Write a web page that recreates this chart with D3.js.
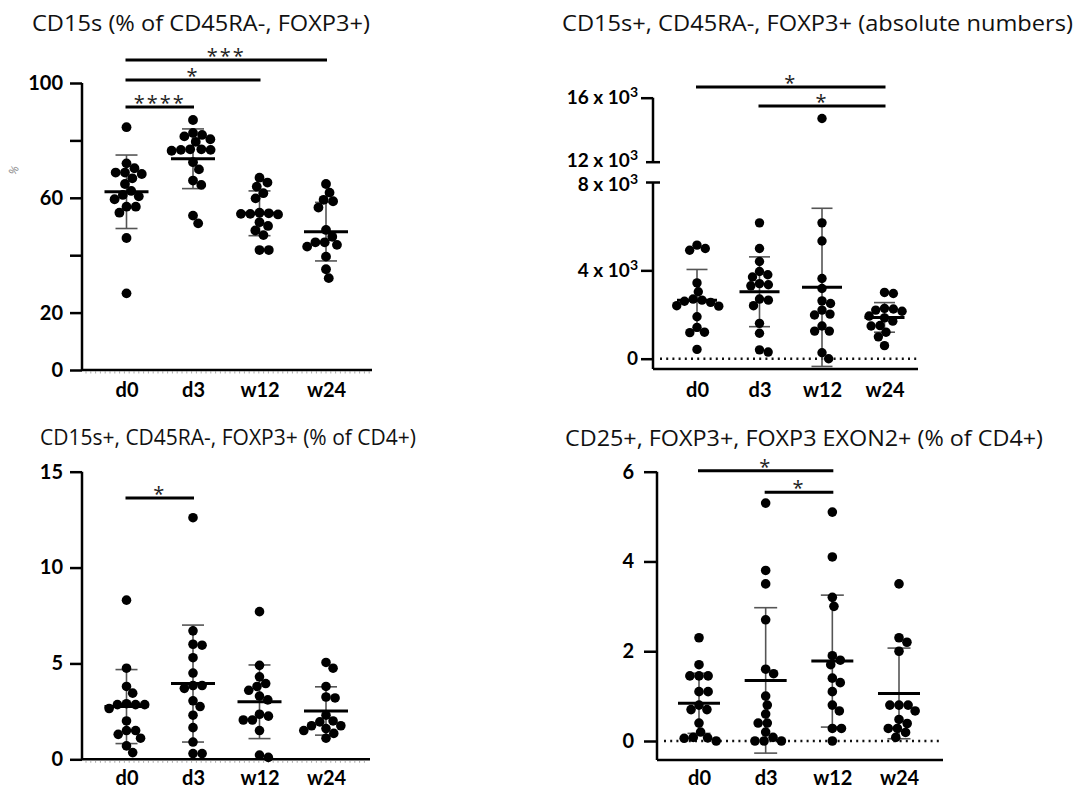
<!DOCTYPE html>
<html><head><meta charset="utf-8">
<script src="https://cdn.jsdelivr.net/npm/d3@7"></script>
<style>body{margin:0;background:#fff} svg{display:block}</style>
</head><body>
<svg id="c" width="1075" height="788"></svg>
<script>
// ---------------- DATA ----------------
const categories = ["d0", "d3", "w12", "w24"];

// Panel 1: CD15s (% of CD45RA-, FOXP3+)
const pctTitle = "CD15s (% of CD45RA-, FOXP3+)";
const pct_d0  = [84.6, 72.0, 70.3, 68.8, 68.8, 68.3, 66.8, 64.8, 62.4, 61.0, 60.5, 59.5, 56.9, 56.9, 54.8, 46.0, 26.7];
const pct_d3  = [87.1, 82.6, 81.9, 81.4, 80.4, 79.5, 76.9, 76.9, 76.7, 76.7, 76.4, 72.4, 69.9, 66.0, 64.5, 53.8, 51.1];
const pct_w12 = [67.0, 65.3, 63.9, 61.6, 59.8, 54.8, 54.6, 54.4, 54.2, 54.4, 51.5, 50.2, 48.6, 47.0, 41.8, 41.8];
const pct_w24 = [64.8, 61.8, 59.3, 58.8, 56.6, 48.8, 46.4, 44.5, 44.5, 43.6, 43.0, 39.5, 35.1, 32.0];
const pct_mean = [62.1, 73.6, 54.6, 48.2];
const pct_sd   = [12.8, 10.4, 7.8, 10.2];
const pct_ticks = [0, 20, 40, 60, 80, 100];
const pct_tickLabels = ["0", "20", "", "60", "", "100"];
const pct_sig = [["d0", "d3", "****"], ["d0", "w12", "*"], ["d0", "w24", "***"]];

// Panel 2: CD15s+, CD45RA-, FOXP3+ (absolute numbers)
const absTitle = "CD15s+, CD45RA-, FOXP3+ (absolute numbers)";
const abs_d0  = [5140, 4990, 4910, 3430, 3030, 2700, 2650, 2600, 2550, 2400, 2380, 1900, 1420, 1200, 1180, 420];
const abs_d3  = [6150, 4990, 4400, 3950, 3800, 3700, 3400, 3350, 3300, 2700, 2650, 2400, 1600, 1150, 400, 300];
const abs_w12 = [14700, 6150, 5330, 3630, 3180, 2620, 2500, 2200, 2020, 1980, 1480, 1250, 1250, 270, 0];
const abs_w24 = [3000, 2950, 2280, 2250, 2200, 2150, 1930, 1850, 1700, 1500, 1480, 1200, 990, 590];
const abs_mean = [2650, 3030, 3230, 1870];
const abs_sd   = [1390, 1580, 3580, 670];
const abs_ticksLow  = [0, 4000, 8000];
const abs_ticksHigh = [12000, 16000];
const abs_tickLabels = {0: "0", 4000: "4 x 10^3", 8000: "8 x 10^3", 12000: "12 x 10^3", 16000: "16 x 10^3"};
const abs_sig = [["d0", "w24", "*"], ["d3", "w24", "*"]];

// Panel 3: CD15s+, CD45RA-, FOXP3+ (% of CD4+)
const cd4Title = "CD15s+, CD45RA-, FOXP3+ (% of CD4+)";
const cd4_d0  = [8.3, 4.75, 3.8, 3.45, 2.9, 2.85, 2.85, 2.85, 2.65, 2.0, 1.5, 1.5, 1.3, 1.1, 0.7, 0.35];
const cd4_d3  = [12.6, 6.7, 6.0, 5.95, 5.3, 4.5, 3.85, 3.85, 3.7, 3.05, 2.75, 2.3, 1.65, 0.9, 0.3, 0.3];
const cd4_w12 = [7.7, 4.9, 4.3, 3.95, 3.8, 3.6, 3.3, 3.1, 2.35, 2.25, 2.05, 2.05, 1.5, 0.22, 0.1];
const cd4_w24 = [5.05, 4.75, 3.8, 3.25, 3.2, 2.3, 2.0, 1.95, 1.75, 1.75, 1.6, 1.5, 1.35, 1.1];
const cd4_mean = [2.75, 3.95, 3.0, 2.52];
const cd4_sd   = [1.93, 3.05, 1.92, 1.26];
const cd4_ticks = [0, 5, 10, 15];
const cd4_sig = [["d0", "d3", "*"]];

// Panel 4: CD25+, FOXP3+, FOXP3 EXON2+ (% of CD4+)
const exonTitle = "CD25+, FOXP3+, FOXP3 EXON2+ (% of CD4+)";
const exon_d0  = [2.3, 1.7, 1.45, 1.45, 1.45, 1.1, 1.1, 0.8, 0.7, 0.7, 0.4, 0.2, 0.08, 0.07, 0.06, 0.0];
const exon_d3  = [5.3, 3.8, 3.5, 2.7, 1.6, 1.5, 1.0, 0.8, 0.6, 0.4, 0.4, 0.2, 0.08, 0.0, 0.0, 0.0];
const exon_w12 = [5.1, 4.1, 3.2, 3.0, 1.9, 1.8, 1.7, 1.4, 1.3, 1.1, 0.8, 0.67, 0.28, 0.28, 0.0];
const exon_w24 = [3.5, 2.3, 2.2, 2.0, 0.8, 0.8, 0.8, 0.67, 0.48, 0.39, 0.28, 0.28, 0.19, 0.08];
const exon_mean = [0.84, 1.35, 1.78, 1.06];
const exon_sd   = [0.67, 1.62, 1.47, 1.01];
const exon_ticks = [0, 2, 4, 6];
const exon_sig = [["d0", "w12", "*"], ["d3", "w12", "*"]];

// ---------------- DRAWING ----------------
const svg = d3.select("#c");
const TITLE_FONT = "'Open Sans', 'Noto Sans', sans-serif";
const BOLD_FONT = "Lato, 'Open Sans', sans-serif";

function swarm(values, yf, r) {
  const D = 2 * r * 0.95;
  const pts = values.map(v => ({v, y: yf(v), x: 0})).sort((a, b) => a.y - b.y);
  const placed = [];
  for (const p of pts) {
    const c = [0];
    for (const q of placed) {
      const dy = Math.abs(q.y - p.y);
      if (dy < D) { const dx = Math.sqrt(D * D - dy * dy); c.push(q.x + dx, q.x - dx); }
    }
    c.sort((a, b) => Math.abs(a) - Math.abs(b));
    for (const cx of c) {
      if (placed.every(q => (q.x - cx) ** 2 + (q.y - p.y) ** 2 >= D * D - 0.01)) { p.x = cx; break; }
    }
    placed.push(p);
  }
  return placed;
}

function drawPanel(p) {
  const g = svg.append("g");
  g.append("text").attr("x", p.titleX).attr("y", p.titleY)
    .attr("textLength", p.titleLen).attr("lengthAdjust", "spacingAndGlyphs")
    .style("font-family", TITLE_FONT).style("font-size", "21px").attr("fill", "#111")
    .text(p.title);

  const x = d3.scalePoint().domain(categories).range(p.xRange);

  g.append("line").attr("x1", p.axisX).attr("x2", p.xEnd).attr("y1", p.xAxisY).attr("y2", p.xAxisY)
    .attr("stroke", "#000").attr("stroke-width", 2.5);
  if (p.minorTicks) {
    g.append("g").selectAll("line").data(d3.range(p.axisX + 4, p.xEnd - 1, 4.8)).join("line")
      .attr("x1", d => d).attr("x2", d => d).attr("y1", p.xAxisY + 1).attr("y2", p.xAxisY + 3.5)
      .attr("stroke", "#888").attr("stroke-width", 0.7);
  }
  const xa = g.append("g").attr("transform", `translate(0,${p.xAxisY})`)
    .call(d3.axisBottom(x).tickSize(0));
  xa.select(".domain").remove();
  xa.selectAll("text").attr("y", p.labelBase - p.xAxisY).attr("dy", 0)
    .style("font-family", BOLD_FONT).style("font-size", "20px").style("font-weight", "700").attr("fill", "#000");

  if (p.zeroDots) {
    g.append("line").attr("x1", p.axisX + 7).attr("x2", p.xEnd).attr("y1", p.y(0)).attr("y2", p.y(0))
      .attr("stroke", "#111").attr("stroke-width", 2.4).attr("stroke-dasharray", "2,4.2");
  }

  categories.forEach((c, i) => {
    const cx = x(c), m = p.mean[i], s = p.sd[i];
    const yt = p.y(m + s), yb = p.y(m - s);
    g.append("line").attr("x1", cx).attr("x2", cx).attr("y1", yt).attr("y2", yb).attr("stroke", "#555").attr("stroke-width", 1.6);
    [yt, yb].forEach(yy => g.append("line").attr("x1", cx - p.capW / 2).attr("x2", cx + p.capW / 2)
      .attr("y1", yy).attr("y2", yy).attr("stroke", "#555").attr("stroke-width", 1.6));
  });

  p.series.forEach((vals, i) => {
    const cx = x(categories[i]);
    const pts = swarm(vals, p.y, p.r);
    g.append("g").selectAll("circle").data(pts).join("circle")
      .attr("cx", d => cx + d.x).attr("cy", d => d.y).attr("r", p.r).attr("fill", "#000");
  });

  categories.forEach((c, i) => {
    const cx = x(c), ym = p.y(p.mean[i]);
    g.append("line").attr("x1", cx - p.meanW / 2).attr("x2", cx + p.meanW / 2).attr("y1", ym).attr("y2", ym)
      .attr("stroke", "#000").attr("stroke-width", 3);
  });

  p.sig.forEach((s, k) => {
    const yy = p.sigY[k];
    g.append("line").attr("x1", x(s[0]) - 1).attr("x2", x(s[1]) + 1).attr("y1", yy).attr("y2", yy)
      .attr("stroke", "#000").attr("stroke-width", 3);
    g.append("text").attr("x", (x(s[0]) + x(s[1])) / 2).attr("y", yy + 3).attr("text-anchor", "middle")
      .style("font-family", TITLE_FONT).style("font-size", "20px").style("letter-spacing", "2px")
      .attr("fill", "#222").text(s[2]);
  });
  return {g, x};
}

function styleYAxis(ax, tickLen, pad, size) {
  ax.select(".domain").remove();
  ax.selectAll(".tick line").attr("stroke", "#000").attr("stroke-width", 2.5);
  ax.selectAll(".tick text").attr("x", -(tickLen + pad))
    .style("font-family", BOLD_FONT).style("font-size", (size || 20) + "px").style("font-weight", "700").attr("fill", "#000");
}

// ---- Panel 1 ----
{
  const y = d3.scaleLinear().domain([0, 100]).range([370, 83]);
  const P = drawPanel({
    title: pctTitle, titleX: 32, titleY: 31, titleLen: 338,
    xRange: [126.5, 326], axisX: 82, xEnd: 372, xAxisY: 370, labelBase: 397, minorTicks: true,
    y, series: [pct_d0, pct_d3, pct_w12, pct_w24], mean: pct_mean, sd: pct_sd,
    r: 4.9, meanW: 44, capW: 22, sig: pct_sig, sigY: [107, 80, 60]
  });
  P.g.append("line").attr("x1", 82).attr("x2", 82).attr("y1", y(100)).attr("y2", 370).attr("stroke", "#000").attr("stroke-width", 2.5);
  const ax = P.g.append("g").attr("transform", "translate(82,0)")
    .call(d3.axisLeft(y).tickValues(pct_ticks).tickFormat((d, i) => pct_tickLabels[i]).tickSize(12));
  styleYAxis(ax, 12, 7);
  P.g.append("text").attr("transform", "translate(17,172) rotate(-60)").attr("text-anchor", "middle")
    .style("font-family", TITLE_FONT).style("font-size", "11px").attr("fill", "#888").text("%");
}

// ---- Panel 2 ----
{
  const yLow = d3.scaleLinear().domain([0, 8000]).range([358.7, 182]);
  const yHigh = d3.scaleLinear().domain([12000, 16000]).range([161.7, 97.7]);
  const y = v => v > 10000 ? yHigh(v) : yLow(v);
  const AX = 653;
  const P = drawPanel({
    title: absTitle, titleX: 562, titleY: 31, titleLen: 511,
    xRange: [697, 884.5], axisX: AX, xEnd: 918, xAxisY: 369, labelBase: 397, zeroDots: true,
    y, series: [abs_d0, abs_d3, abs_w12, abs_w24], mean: abs_mean, sd: abs_sd,
    r: 4.7, meanW: 40, capW: 21, sig: abs_sig, sigY: [87, 106]
  });
  P.g.append("line").attr("x1", AX).attr("x2", AX).attr("y1", yLow(8000)).attr("y2", 369).attr("stroke", "#000").attr("stroke-width", 2.5);
  P.g.append("line").attr("x1", AX).attr("x2", AX).attr("y1", yHigh(16000)).attr("y2", yHigh(12000)).attr("stroke", "#000").attr("stroke-width", 2.5);
  const fmt = d => abs_tickLabels[d];
  [[yLow, abs_ticksLow], [yHigh, abs_ticksHigh]].forEach(([sc, tv]) => {
    const ax = P.g.append("g").attr("transform", `translate(${AX},0)`)
      .call(d3.axisLeft(sc).tickValues(tv).tickFormat(fmt).tickSize(12));
    styleYAxis(ax, 12, 3, 19);
    ax.selectAll(".tick line").filter(d => d === 8000 || d === 12000).attr("x1", 7).attr("x2", -7);
    ax.selectAll(".tick text").each(function (d) {
      const lab = abs_tickLabels[d];
      const t = d3.select(this);
      if (lab.includes("^")) {
        const [base, exp] = lab.split("^");
        t.text(null);
        t.append("tspan").text(base);
        t.append("tspan").attr("dy", "-0.5em").style("font-size", "14px").text(exp);
      }
    });
    // nudge the two stacked break labels apart slightly
    ax.selectAll(".tick").filter(d => d === 12000).select("text").attr("dy", "0.25em");
    ax.selectAll(".tick").filter(d => d === 8000).select("text").attr("dy", "0.45em");
  });
}

// ---- Panel 3 ----
{
  const y = d3.scaleLinear().domain([0, 15]).range([759.3, 471.7]);
  const P = drawPanel({
    title: cd4Title, titleX: 40, titleY: 445, titleLen: 376,
    xRange: [126.5, 326], axisX: 82, xEnd: 370, xAxisY: 759.3, labelBase: 785, minorTicks: true,
    y, series: [cd4_d0, cd4_d3, cd4_w12, cd4_w24], mean: cd4_mean, sd: cd4_sd,
    r: 4.8, meanW: 44, capW: 22, sig: cd4_sig, sigY: [498]
  });
  P.g.append("line").attr("x1", 82).attr("x2", 82).attr("y1", y(15)).attr("y2", 759.3).attr("stroke", "#000").attr("stroke-width", 2.5);
  const ax = P.g.append("g").attr("transform", "translate(82,0)")
    .call(d3.axisLeft(y).tickValues(cd4_ticks).tickFormat(d3.format("d")).tickSize(12));
  styleYAxis(ax, 12, 7);
}

// ---- Panel 4 ----
{
  const y = d3.scaleLinear().domain([0, 6]).range([741, 471.7]);
  const AX = 657;
  const P = drawPanel({
    title: exonTitle, titleX: 565, titleY: 446, titleLen: 478,
    xRange: [699, 899], axisX: AX, xEnd: 943, xAxisY: 760, labelBase: 785, zeroDots: true,
    y, series: [exon_d0, exon_d3, exon_w12, exon_w24], mean: exon_mean, sd: exon_sd,
    r: 4.8, meanW: 42, capW: 23, sig: exon_sig, sigY: [470.7, 492.3]
  });
  P.g.append("line").attr("x1", AX).attr("x2", AX).attr("y1", y(6)).attr("y2", 760).attr("stroke", "#000").attr("stroke-width", 2.5);
  const ax = P.g.append("g").attr("transform", `translate(${AX},0)`)
    .call(d3.axisLeft(y).tickValues(exon_ticks).tickFormat(d3.format("d")).tickSize(13));
  styleYAxis(ax, 13, 10);
}
</script>
</body></html>
